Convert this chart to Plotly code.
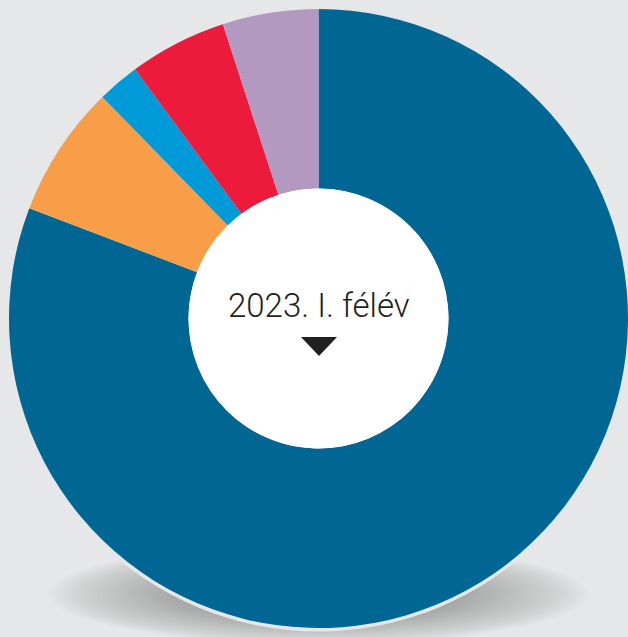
import plotly.graph_objects as go

W, H = 628, 637

labels = ["A", "B", "C", "D", "E"]
values = [80.8, 6.9, 2.2, 5.1, 5.0]
colors = ["#006795", "#f89e48", "#009ad9", "#ed1b3b", "#b398c0"]

center_text = "2023. I. félév"

BG = "#e6e7e8"


def px2paper(x, y):
    return x / W, 1 - y / H


def ellipse(cx, cy, rx, ry, layer="below", **kw):
    x0, y0 = px2paper(cx - rx, cy + ry)
    x1, y1 = px2paper(cx + rx, cy - ry)
    return dict(type="circle", xref="paper", yref="paper",
                x0=x0, y0=y0, x1=x1, y1=y1, line_width=0, layer=layer, **kw)


cx, cy, r = 318.5, 318.5, 309.5
hole = 0.42

shapes = []
# soft shadow under the disc
n = 30
for i in range(n):
    k = i / (n - 1)
    shapes.append(ellipse(318, 594, 270 - 130 * k, 50 - 24 * k,
                          fillcolor="rgba(110,110,118,0.024)"))
# thin light ring around the disc
shapes.append(ellipse(cx, cy, r + 3.5, r + 3.5, fillcolor=BG))
# white centre
shapes.append(ellipse(cx, cy, r * hole, r * hole, layer="above", fillcolor="white"))

# small down arrow under the caption
p1 = px2paper(301, 337)
p2 = px2paper(337, 337)
p3 = px2paper(319, 356)
shapes.append(dict(
    type="path", xref="paper", yref="paper", layer="above",
    path=f"M {p1[0]} {p1[1]} L {p2[0]} {p2[1]} L {p3[0]} {p3[1]} Z",
    fillcolor="#231f20", line_width=0,
))

fig = go.Figure(go.Pie(
    labels=labels,
    values=values,
    marker=dict(colors=colors, line=dict(width=0)),
    hole=hole,
    sort=False,
    direction="clockwise",
    rotation=0,
    textinfo="none",
    showlegend=False,
    domain=dict(x=[(cx - r) / W, 1.0],
                y=[1 - (cy + r) / H, 1 - (cy - r) / H]),
))

tx, ty = px2paper(319, 305)
fig.add_annotation(
    x=tx, y=ty, xref="paper", yref="paper",
    text=center_text, showarrow=False,
    xanchor="center", yanchor="middle",
    font=dict(family="Roboto", size=33, color="#231f20", weight=300),
)

fig.update_layout(
    width=W, height=H,
    margin=dict(l=0, r=0, t=0, b=0),
    paper_bgcolor=BG, plot_bgcolor=BG,
    shapes=shapes,
)

fig.write_html(
    "out.html",
    config={"displayModeBar": False},
    post_script="document.body.style.margin='0';",
)
